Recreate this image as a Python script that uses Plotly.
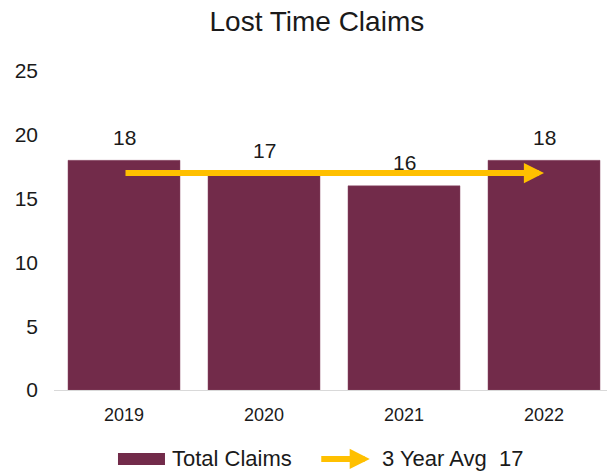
import plotly.graph_objects as go

# data
years = ["2019", "2020", "2021", "2022"]
claims = [18, 17, 16, 18]
avg_label = "3 Year Avg  17"
avg_value = 17
y_ticks = [0, 5, 10, 15, 20, 25]

BAR_COLOR = "#722B4A"
AVG_COLOR = "#FFC000"
FONT = "Liberation Sans, Arial, sans-serif"
TEXT = "#1a1a1a"

fig = go.Figure()

fig.add_trace(go.Bar(
    x=years, y=claims,
    width=0.8,
    marker=dict(color=BAR_COLOR, line=dict(color="#8a4a66", width=0.5)),
    name="Total Claims",
    showlegend=False,
))

# value labels above each bar (category axis -> use the category index)
for i, v in enumerate(claims):
    fig.add_annotation(
        x=i, y=v, text=str(v), showarrow=False,
        yanchor="middle", yshift=23,
        font=dict(family=FONT, size=21, color=TEXT),
    )

# 3-year average arrow across the bars
fig.add_annotation(
    x=len(years) - 1, y=avg_value, ax=0, ay=avg_value,
    axref="x", ayref="y", xref="x", yref="y",
    text="", showarrow=True,
    arrowhead=2, arrowsize=0.67, arrowwidth=6, arrowcolor=AVG_COLOR,
    standoff=0, startstandoff=0,
)

# custom legend (below the axis)
fig.add_shape(
    type="rect", xref="paper", yref="paper",
    x0=0.1157, x1=0.2007, y0=-0.235, y1=-0.1975,
    fillcolor=BAR_COLOR, line=dict(width=0),
)
fig.add_annotation(
    x=0.2098, y=-0.216, xref="paper", yref="paper",
    text="Total Claims", showarrow=False, xanchor="left", yanchor="middle",
    font=dict(family=FONT, size=22, color=TEXT),
)
fig.add_annotation(
    x=0.571, y=-0.216, xref="paper", yref="paper",
    ax=-50, ay=0, text="", showarrow=True,
    arrowhead=2, arrowsize=0.67, arrowwidth=6, arrowcolor=AVG_COLOR,
    standoff=0,
)
fig.add_annotation(
    x=0.5895, y=-0.216, xref="paper", yref="paper",
    text=avg_label, showarrow=False, xanchor="left", yanchor="middle",
    font=dict(family=FONT, size=22, color=TEXT),
)

fig.update_layout(
    width=607, height=474,
    margin=dict(l=54, r=0, t=71, b=84),
    plot_bgcolor="white",
    paper_bgcolor="white",
    font=dict(family=FONT, color=TEXT),
    title=dict(
        text="Lost Time Claims", x=0.522, xanchor="center",
        y=1 - 21 / 474, yref="container", yanchor="middle",
        font=dict(family=FONT, size=28, color=TEXT),
    ),
    bargap=0.2,
)
fig.update_xaxes(
    type="category",
    range=[-0.5, 3.45],
    showline=True, linecolor="#D9D9D9", linewidth=1,
    ticks="", tickfont=dict(size=18, color=TEXT),
    ticklabelstandoff=8,
    showgrid=False, zeroline=False,
)
fig.update_yaxes(
    range=[0, 25], tickvals=y_ticks,
    showgrid=False, zeroline=False, showline=False,
    ticks="", tickfont=dict(size=21, color=TEXT),
    ticklabelstandoff=15,
)

# drop the default 8px body margin so the figure fills the window
fig.write_html(
    "out.html",
    config={"displayModeBar": False},
    post_script="document.body.style.margin='0';",
)
